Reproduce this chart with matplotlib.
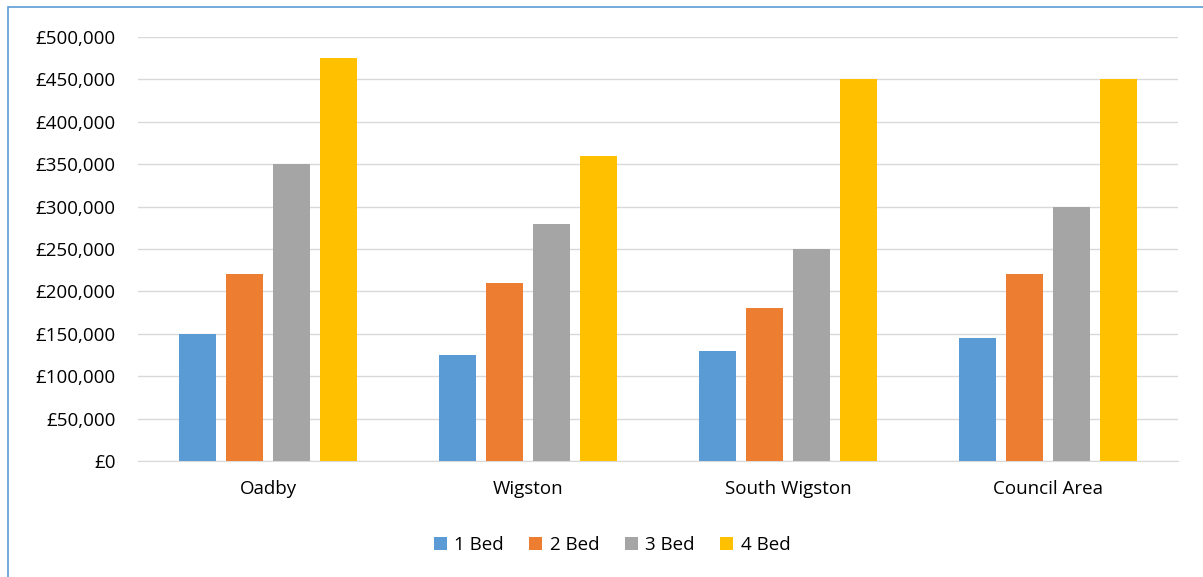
import numpy as np
import matplotlib.pyplot as plt
from matplotlib.ticker import FuncFormatter
from matplotlib.patches import Rectangle

plt.rcParams['font.family'] = ['Open Sans', 'DejaVu Sans']

areas = ['Oadby', 'Wigston', 'South Wigston', 'Council Area']
series = ['1 Bed', '2 Bed', '3 Bed', '4 Bed']
bed1 = [150000, 125000, 130000, 145000]
bed2 = [220000, 210000, 180000, 220000]
bed3 = [350000, 280000, 250000, 300000]
bed4 = [475000, 360000, 450000, 450000]
colors = ['#5B9BD5', '#ED7D31', '#A5A5A5', '#FFC000']

W, H = 1203, 577
fig = plt.figure(figsize=(W / 100, H / 100), dpi=100)
ax = fig.add_axes([138 / W, 1 - 461 / H, (1178 - 138) / W, (461 - 37) / H])

x = np.arange(len(areas))
width = 0.142
step = 0.181
for i, (vals, lab, c) in enumerate(zip([bed1, bed2, bed3, bed4], series, colors)):
    ax.bar(x + (i - 1.5) * step, vals, width, color=c, label=lab, zorder=3)

ax.set_xlim(-0.5, len(areas) - 0.5)
ax.set_ylim(0, 500000)
ax.set_yticks(np.arange(0, 500001, 50000))
ax.yaxis.set_major_formatter(FuncFormatter(lambda v, p: '£{:,.0f}'.format(v)))
ax.set_xticks(x)
ax.set_xticklabels(areas)
ax.grid(axis='y', color='#D9D9D9', linewidth=1, zorder=0)
for s in ['top', 'right', 'left']:
    ax.spines[s].set_visible(False)
ax.spines['bottom'].set_color('#D9D9D9')
ax.tick_params(axis='both', length=0, labelsize=13.5, colors='black')
ax.tick_params(axis='x', pad=14)
ax.tick_params(axis='y', pad=16)

fig.legend(loc='center', bbox_to_anchor=(612 / W, 1 - 545 / H), ncol=4, frameon=False,
           fontsize=13.5, handlelength=0.7, handleheight=0.7, handletextpad=0.4,
           columnspacing=1.35)

fig.patches.append(Rectangle((8 / W, -0.1), 1.2, 1 - 7 / H + 0.1, transform=fig.transFigure,
                             fill=False, edgecolor='#5B9BD5', linewidth=1.2))

fig.savefig('out.png', dpi=100)
